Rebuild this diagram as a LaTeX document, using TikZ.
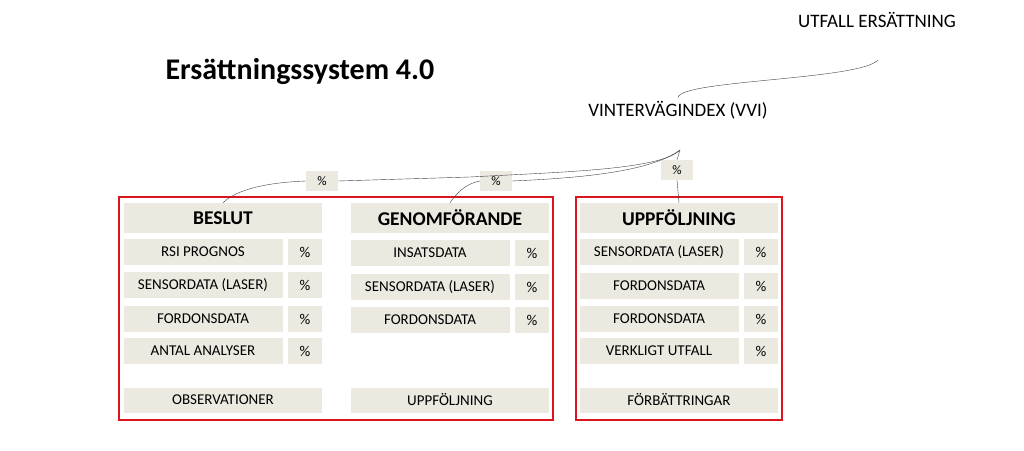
\documentclass[tikz,border=0pt]{standalone}
\usepackage{fontspec}
\setmainfont{Carlito}
\definecolor{cellgray}{RGB}{236,233,224}
\definecolor{framered}{RGB}{220,20,30}
\begin{document}
\begin{tikzpicture}[x=1pt,y=-1pt,
	cell/.style={fill=cellgray,minimum height=26pt,inner sep=0pt,font=\fontsize{15}{17}\selectfont},
	head/.style={cell,minimum height=30pt,font=\fontsize{19.5}{22}\selectfont\bfseries},
	wide/.style={minimum width=198pt},
	narrow/.style={minimum width=159pt},
	pct/.style={cell,minimum width=34pt},
	frame/.style={draw=framered,line width=2.2pt},
	link/.style={draw=black!75,thin}]
	\useasboundingbox (0,0) rectangle (1024,450);

	\node[font=\fontsize{30}{34}\selectfont\bfseries,anchor=west] (title) at (162,72) {Ersättningssystem 4.0};
	\node[font=\fontsize{19}{22}\selectfont] (utfall) at (877,20) {UTFALL ERSÄTTNING};
	\node[font=\fontsize{19}{22}\selectfont] (vvi) at (678,110) {VINTERVÄGINDEX (VVI)};
	\coordinate (hub) at (680,150);
	\coordinate (utend) at (878,60);

	\draw[frame] (119,197) rectangle (553,420);
	\draw[frame] (576,197) rectangle (782,420);

	% headers
	\node[head,wide] (beslut) at (223,218) {BESLUT};
	\node[head,wide] (genom) at (450,218) {GENOMFÖRANDE};
	\node[head,wide] (uppf) at (679,218) {UPPFÖLJNING};

	% rows
	\foreach \txt/\y [count=\i] in {RSI PROGNOS/252,SENSORDATA (LASER)/285,FORDONSDATA/319,ANTAL ANALYSER/351}{
		\node[cell,narrow] (b\i) at (203,\y) {\txt};
		\node[pct] (bp\i) at (305,\y) {\%};
	}
	\foreach \txt/\y [count=\i] in {INSATSDATA/253,SENSORDATA (LASER)/287,FORDONSDATA/320}{
		\node[cell,narrow] (g\i) at (430,\y) {\txt};
		\node[pct] (gp\i) at (532,\y) {\%};
	}
	\foreach \txt/\y [count=\i] in {SENSORDATA (LASER)/252,FORDONSDATA/286,FORDONSDATA/319,VERKLIGT UTFALL/351}{
		\node[cell,narrow] (u\i) at (659,\y) {\txt};
		\node[pct] (up\i) at (761,\y) {\%};
	}

	% bottom
	\node[cell,wide,minimum height=25pt] (obs) at (223,400) {OBSERVATIONER};
	\node[cell,wide,minimum height=25pt] (uppb) at (450,400) {UPPFÖLJNING};
	\node[cell,wide,minimum height=25pt] (forb) at (679,400) {FÖRBÄTTRINGAR};

	% weights
	\node[pct,minimum width=32pt,minimum height=20pt,font=\fontsize{13}{15}\selectfont] (w1) at (322,181) {\%};
	\node[pct,minimum width=32pt,minimum height=20pt,font=\fontsize{13}{15}\selectfont] (w2) at (496,181) {\%};
	\node[pct,minimum width=32pt,minimum height=20pt,font=\fontsize{13}{15}\selectfont] (w3) at (677,170) {\%};

	\draw[link] (beslut.north) .. controls (240,186) and (280,182) .. (w1.west);
	\draw[link] (w1.east) -- (470,177) .. controls (560,172) and (660,170) .. (hub);
	\draw[link] (genom.north) .. controls (460,188) and (470,183) .. (w2.west);
	\draw[link] (w2.east) .. controls (580,178) and (650,172) .. (hub);
	\draw[link] (w3.south) -- (uppf.north);
	\draw[link] (w3.north) -- (hub);
	\draw[link] (vvi.north) .. controls (680,80) and (860,80) .. (utend);
\end{tikzpicture}
\end{document}
